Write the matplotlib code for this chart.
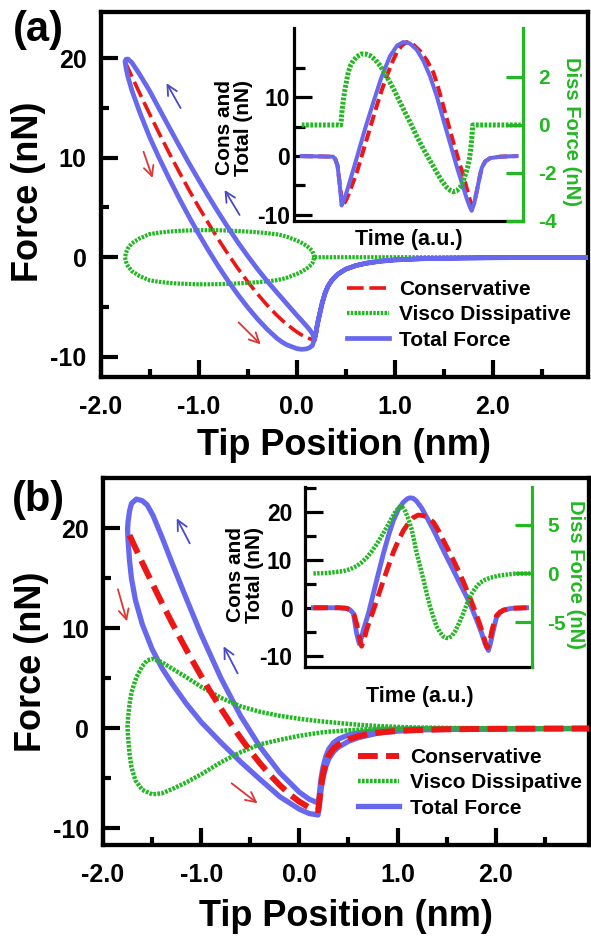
import matplotlib
matplotlib.use('Agg')
import matplotlib.pyplot as plt

plt.rcParams['font.family'] = ['Liberation Sans', 'DejaVu Sans']
plt.rcParams['font.weight'] = 'bold'
plt.rcParams['axes.unicode_minus'] = False

BLUE = '#6868ee'
RED = '#ee1515'
GREEN = '#22b822'
ARROW_BLUE = '#4848c8'
ARROW_RED = '#e03535'

# ---------------- panel (a) main: force vs tip position ----------------
a_contact_x = [-1.75, -1.74, -1.72, -1.68, -1.6, -1.5, -1.4, -1.3, -1.2, -1.1, -1.0, -0.9, -0.8,
               -0.7, -0.6, -0.5, -0.4, -0.3, -0.2, -0.15, -0.1, 0.0, 0.05, 0.1, 0.13, 0.16, 0.18]
a_cons_contact = [19.67, 19.45, 19.02, 18.16, 16.47, 14.41, 12.41, 10.48, 8.61, 6.80, 5.07, 3.41, 1.82,
                  0.31, -1.12, -2.45, -3.69, -4.83, -5.86, -6.32, -6.75, -7.50, -7.81, -8.06, -8.18, -8.27, -8.30]
a_diss_approach = [0.0, 0.45, 0.9, 1.4, 1.9, 2.32, 2.48, 2.58, 2.65, 2.69, 2.72, 2.72, 2.71,
                   2.68, 2.63, 2.58, 2.51, 2.42, 2.3, 2.2, 2.06, 1.68, 1.45, 1.15, 0.92, 0.6, 0.0]
a_diss_retract = [0.0, -0.45, -0.9, -1.4, -1.9, -2.32, -2.48, -2.58, -2.65, -2.69, -2.72, -2.72, -2.71,
                  -2.68, -2.63, -2.58, -2.51, -2.42, -2.3, -2.2, -2.06, -1.68, -1.45, -1.15, -0.92, -0.6, 0.0]
a_tot_approach = [19.67, 19.9, 19.92, 19.56, 18.37, 16.73, 14.89, 13.06, 11.26, 9.49, 7.79, 6.13, 4.53,
                  2.99, 1.51, 0.13, -1.18, -2.41, -3.56, -4.12, -4.69, -5.82, -6.36, -6.91, -7.26, -7.67, -8.30]
a_tot_retract = [19.67, 19.0, 18.12, 16.76, 14.57, 12.09, 9.93, 7.90, 5.96, 4.11, 2.35, 0.69, -0.89,
                 -2.37, -3.75, -5.03, -6.20, -7.25, -8.16, -8.52, -8.81, -9.18, -9.26, -9.21, -9.10, -8.87, -8.30]
a_free_x = [0.18, 0.19, 0.2, 0.21, 0.23, 0.26, 0.29, 0.32, 0.36, 0.42, 0.5, 0.6, 0.7, 0.85,
            1.0, 1.25, 1.5, 2.0, 2.5, 3.0]
a_free_f = [-8.3, -7.9, -7.4, -6.8, -5.9, -4.6, -3.6, -2.9, -2.3, -1.7, -1.2, -0.85, -0.62, -0.4,
            -0.27, -0.16, -0.1, -0.05, -0.03, -0.02]
a_free_diss = [0.0] * len(a_free_x)

# arrows (tail -> head) in data units
a_arrows_blue = [((-1.184, 15.0), (-1.327, 17.5)), ((-0.582, 4.25), (-0.735, 6.76))]
a_arrows_red = [((-1.561, 10.6), (-1.469, 7.97)), ((-0.592, -6.55), (-0.367, -8.76))]

# ---------------- panel (a) inset: force vs time ----------------
ta_tot_t = [0.034, 0.17, 0.18, 0.19, 0.198, 0.208, 0.22, 0.23, 0.25, 0.274, 0.31, 0.346, 0.38, 0.419,
            0.45, 0.477, 0.505, 0.536, 0.565, 0.594, 0.625, 0.652, 0.68, 0.71, 0.735, 0.754, 0.768,
            0.776, 0.787, 0.798, 0.81, 0.82, 0.835, 0.856, 0.9, 0.972]
ta_tot_f = [0, -0.1, -0.5, -1.6, -4.2, -8.4, -7.2, -6.1, -3.5, -0.3, 4.6, 9.1, 13.2, 17.0,
            18.8, 19.4, 19.2, 18.1, 16.2, 13.6, 10.0, 6.2, 2.4, -1.7, -4.8, -7.2, -8.7,
            -9.3, -8.0, -6.0, -3.7, -2.0, -0.9, -0.35, -0.1, 0]
ta_cons_t = [0.034, 0.17, 0.18, 0.19, 0.198, 0.208, 0.216, 0.23, 0.25, 0.274, 0.3, 0.317, 0.34, 0.361,
             0.383, 0.405, 0.427, 0.448, 0.47, 0.492, 0.515, 0.55, 0.58, 0.609, 0.63, 0.652, 0.674,
             0.696, 0.718, 0.74, 0.755, 0.769, 0.776, 0.787, 0.798, 0.81, 0.82, 0.835, 0.856, 0.9, 0.972]
ta_cons_f = [0, -0.1, -0.5, -1.6, -4.2, -7.4, -8.3, -7.3, -5.3, -2.8, 0.6, 2.8, 5.8, 8.5,
             11.2, 13.6, 15.8, 17.6, 18.8, 19.4, 19.2, 17.9, 16.3, 14.2, 11.6, 8.5, 5.4,
             2.3, -0.6, -3.4, -5.6, -7.6, -8.3, -8.0, -6.0, -3.7, -2.0, -0.9, -0.35, -0.1, 0]
ta_diss_t = [0.034, 0.204, 0.206, 0.208, 0.212, 0.218, 0.223, 0.23, 0.237, 0.248, 0.259, 0.275, 0.295,
             0.315, 0.332, 0.355, 0.376, 0.4, 0.419, 0.44, 0.463, 0.485, 0.507, 0.535, 0.565, 0.595,
             0.623, 0.645, 0.667, 0.685, 0.696, 0.71, 0.725, 0.737, 0.747, 0.757, 0.766, 0.772, 0.776,
             0.779, 0.781, 0.99]
ta_diss_f = [0, 0, 0.15, 0.4, 0.8, 1.2, 1.5, 1.85, 2.2, 2.5, 2.68, 2.85, 2.96,
             2.95, 2.89, 2.72, 2.47, 2.1, 1.78, 1.4, 0.95, 0.52, 0.11, -0.45, -1.0, -1.5,
             -1.97, -2.32, -2.6, -2.74, -2.78, -2.74, -2.6, -2.38, -2.1, -1.8, -1.42, -1.0, -0.6,
             -0.2, 0, 0]

# ---------------- panel (b) main ----------------
b_cons_x = [-1.73, -1.6, -1.5, -1.4, -1.3, -1.2, -1.1, -1.0, -0.9, -0.8, -0.7, -0.6, -0.5, -0.4,
            -0.3, -0.2, -0.1, 0.0, 0.1, 0.19, 0.2, 0.21, 0.22, 0.24, 0.27, 0.3, 0.35, 0.42, 0.5,
            0.6, 0.7, 0.85, 1.0, 1.25, 1.5, 2.0, 2.5, 3.0]
b_cons_f = [19.31, 16.56, 14.52, 12.53, 10.61, 8.75, 6.95, 5.22, 3.57, 1.99, 0.48, -0.94, -2.27, -3.51,
            -4.65, -5.68, -6.59, -7.34, -7.92, -8.2, -7.6, -6.7, -5.8, -4.6, -3.45, -2.7, -2.0, -1.5, -1.1,
            -0.8, -0.58, -0.38, -0.26, -0.16, -0.1, -0.05, -0.03, -0.02]
b_app_x = [3.0, 2.5, 2.0, 1.6, 1.2, 1.0, 0.8, 0.6, 0.5, 0.4, 0.35, 0.3, 0.27, 0.24, 0.22, 0.2, 0.19,
           0.1, 0.0, -0.2, -0.4, -0.6, -0.8, -1.0, -1.15, -1.3, -1.4, -1.49, -1.55, -1.6, -1.66,
           -1.71, -1.73, -1.745, -1.75]
b_app_diss = [0.0, 0.0, 0.01, 0.03, 0.08, 0.14, 0.23, 0.36, 0.44, 0.53, 0.58, 0.62, 0.65, 0.68, 0.7,
              0.72, 0.73, 0.83, 0.95, 1.25, 1.65, 2.2, 3.05, 4.15, 5.1, 6.0, 6.6, 6.95, 6.8, 6.2, 5.1,
              3.6, 2.4, 1.0, 0.2]
b_app_tot = [-0.02, -0.03, -0.04, -0.06, -0.07, -0.11, -0.19, -0.44, -0.66, -1.07, -1.42, -2.08, -2.8,
             -3.92, -5.1, -6.88, -7.47, -7.09, -6.39, -4.43, -1.86, 1.26, 5.04, 9.37, 12.94, 16.61,
             19.13, 21.27, 22.33, 22.76, 22.92, 22.48, 21.71, 20.63, 19.94]
b_ret_x = [-1.75, -1.745, -1.73, -1.71, -1.67, -1.6, -1.5, -1.4, -1.3, -1.15, -1.0, -0.8, -0.6, -0.4,
           -0.2, 0.0, 0.1, 0.19, 0.2, 0.22, 0.24, 0.27, 0.3, 0.35, 0.4, 0.5, 0.6, 0.8, 1.0, 1.2, 1.6,
           2.0, 2.5, 3.0]
b_ret_diss = [0.2, -0.8, -2.5, -3.9, -5.2, -6.15, -6.6, -6.5, -6.1, -5.4, -4.6, -3.4, -2.4, -1.6,
              -1.15, -0.75, -0.6, -0.47, -0.45, -0.42, -0.4, -0.37, -0.34, -0.31, -0.27, -0.2, -0.14,
              -0.06, -0.03, -0.01, 0.0, 0.0, 0.0, 0.0]
b_ret_tot = [19.94, 18.83, 16.81, 14.98, 12.83, 10.41, 7.92, 6.03, 4.51, 2.44, 0.62, -1.41, -3.34, -5.11,
             -6.83, -8.09, -8.52, -8.67, -8.05, -6.22, -5.0, -3.82, -3.04, -2.31, -1.87, -1.3, -0.94,
             -0.48, -0.28, -0.16, -0.09, -0.05, -0.03, -0.02]

b_arrows_blue = [((-1.117, 18.5), (-1.249, 21.0)), ((-0.629, 5.5), (-0.772, 8.2))]
b_arrows_red = [((-1.848, 13.9), (-1.756, 10.7)), ((-0.69, -5.5), (-0.426, -7.5))]

# ---------------- panel (b) inset ----------------
tb_tot_t = [0.037, 0.15, 0.18, 0.198, 0.213, 0.227, 0.239, 0.248, 0.257, 0.268, 0.279, 0.301, 0.323,
            0.345, 0.367, 0.389, 0.411, 0.433, 0.45, 0.462, 0.476, 0.491, 0.513, 0.535, 0.565, 0.594,
            0.623, 0.653, 0.682, 0.711, 0.733, 0.755, 0.775, 0.792, 0.8, 0.807, 0.816, 0.826, 0.835,
            0.843, 0.858, 0.873, 0.9, 0.917, 0.975]
tb_tot_f = [0, 0, -0.1, -0.4, -1.2, -5.3, -7.5, -6.3, -4.6, -2.9, -1.2, 3.0, 7.2,
            11.3, 15.0, 18.2, 20.5, 22.0, 22.7, 22.9, 22.8, 22.2, 20.8, 18.9, 16.2, 13.4,
            10.6, 7.8, 5.0, 2.3, 0.0, -2.55, -5.0, -7.4, -8.3, -8.9, -7.4, -5.2, -3.4,
            -1.9, -1.0, -0.5, -0.2, -0.1, 0]
tb_cons_t = [0.037, 0.15, 0.18, 0.2, 0.215, 0.228, 0.24, 0.249, 0.26, 0.271, 0.285, 0.301, 0.323, 0.345,
             0.367, 0.389, 0.411, 0.433, 0.455, 0.477, 0.498, 0.52, 0.543, 0.565, 0.587, 0.609, 0.631,
             0.653, 0.675, 0.697, 0.715, 0.733, 0.752, 0.77, 0.785, 0.796, 0.803, 0.812, 0.822, 0.832,
             0.843, 0.858, 0.873, 0.917, 0.975]
tb_cons_f = [0, 0, -0.1, -0.4, -1.3, -3.5, -6.3, -8.0, -6.6, -4.6, -2.6, -0.5, 2.6, 5.7,
             8.7, 11.6, 14.0, 16.1, 17.6, 18.8, 19.3, 19.2, 18.7, 17.8, 16.1, 14.0, 12.0,
             9.9, 7.7, 5.4, 3.3, 1.2, -1.2, -3.6, -5.8, -7.7, -8.3, -7.2, -4.8, -3.0,
             -1.6, -0.9, -0.5, -0.1, 0]
tb_diss_t = [0.037, 0.1, 0.169, 0.2, 0.227, 0.25, 0.271, 0.293, 0.315, 0.337, 0.359, 0.378, 0.396,
             0.408, 0.418, 0.428, 0.44, 0.455, 0.469, 0.48, 0.491, 0.506, 0.521, 0.535, 0.55, 0.565,
             0.579, 0.594, 0.609, 0.62, 0.631, 0.645, 0.66, 0.678, 0.697, 0.712, 0.726, 0.748, 0.77,
             0.792, 0.814, 0.858, 0.917, 0.99]
tb_diss_f = [0, 0.05, 0.24, 0.45, 0.76, 1.15, 1.62, 2.25, 3.0, 3.85, 4.73, 5.55, 6.28,
             6.65, 6.9, 6.85, 6.45, 5.6, 4.55, 3.4, 2.14, 0.75, -0.62, -2.0, -3.38, -4.5,
             -5.45, -6.05, -6.5, -6.62, -6.66, -6.45, -5.97, -5.1, -4.07, -3.15, -2.35, -1.55, -0.96,
             -0.65, -0.45, -0.2, -0.03, 0]

# ticks and labels
main_xticks = [-2, -1, 0, 1, 2]
main_xlabels = ['-2.0', '-1.0', '0.0', '1.0', '2.0']
main_xminor = [-1.5, -0.5, 0.5, 1.5, 2.5]
main_yticks = [-10, 0, 10, 20]
main_yminor = [-5, 5, 15]
ia_left_major = [-10, 0, 10]
ia_left_minor = [-5, 5, 15]
ia_right_major = [-4, -2, 0, 2]
ib_left_major = [-10, 0, 10, 20]
ib_left_minor = [-5, 5, 15, 25]
ib_right_major = [-5, 0, 5]
legend_labels = ['Conservative', 'Visco Dissipative', 'Total Force']

W, H = 591, 940
fig = plt.figure(figsize=(W / 100, H / 100), dpi=100)


def box(left, right, top, bottom):
    return [left / W, (H - bottom) / H, (right - left) / W, (bottom - top) / H]


def style_main(ax, xlim, ylim):
    ax.set_xlim(*xlim)
    ax.set_ylim(*ylim)
    for s in ax.spines.values():
        s.set_linewidth(3.1)
    ax.set_xticks(main_xticks)
    ax.set_xticklabels(main_xlabels)
    ax.set_xticks(main_xminor, minor=True)
    ax.set_yticks(main_yticks)
    ax.set_yticks(main_yminor, minor=True)
    ax.tick_params(which='both', direction='in', width=3, top=False, right=False)
    ax.tick_params(which='major', length=12)
    ax.tick_params(which='minor', length=6)
    ax.tick_params(axis='x', which='major', pad=13, labelsize=18)
    ax.tick_params(axis='y', which='major', pad=10, labelsize=18)


def style_inset(ax, ax2, ylim_l, ylim_r, lmaj, lmin, rmaj, lpad):
    ax.set_xlim(0, 1)
    ax.set_ylim(*ylim_l)
    ax2.set_ylim(*ylim_r)
    ax.set_xticks([])
    ax.patch.set_alpha(0)
    ax.spines['top'].set_visible(False)
    ax.spines['right'].set_visible(False)
    ax.spines['left'].set_linewidth(2.3)
    ax.spines['bottom'].set_linewidth(2.3)
    for k in ['top', 'left', 'bottom']:
        ax2.spines[k].set_visible(False)
    ax2.spines['right'].set_color(GREEN)
    ax2.spines['right'].set_linewidth(2.3)
    ax.set_yticks(lmaj)
    ax.set_yticks(lmin, minor=True)
    ax.tick_params(axis='y', which='both', direction='in', width=2.3, pad=lpad, labelsize=16.5)
    ax.tick_params(axis='y', which='major', length=13)
    ax.tick_params(axis='y', which='minor', length=8)
    ax2.set_yticks(rmaj)
    ax2.tick_params(axis='y', direction='in', length=12.5, width=2.3, pad=11, labelsize=15,
                    color=GREEN, labelcolor=GREEN)


def add_legend(ax, handles, anchor):
    ax.legend(handles, legend_labels, loc='center left', bbox_to_anchor=anchor, frameon=False,
              fontsize=15, handlelength=2.0, handletextpad=0.5, labelspacing=0.3,
              borderpad=0, borderaxespad=0)


def add_arrows(ax, arrows, color):
    for tail, head in arrows:
        ax.annotate('', xy=head, xytext=tail,
                    arrowprops=dict(arrowstyle='->', color=color, lw=1.3, mutation_scale=18,
                                    shrinkA=0, shrinkB=0))


# ================= panel (a) =================
ax_a = fig.add_axes(box(100.5, 588, 12, 377))
l_cons, = ax_a.plot(a_contact_x + a_free_x, a_cons_contact + a_free_f, color=RED, lw=2.6,
                    linestyle=(0, (4.6, 1.6)), zorder=2)
l_diss, = ax_a.plot(a_contact_x[::-1] + a_contact_x + a_free_x,
                    a_diss_approach[::-1] + a_diss_retract + a_free_diss,
                    color=GREEN, lw=3.0, linestyle=(0, (0.6, 0.3)), zorder=3)
l_tot, = ax_a.plot(a_free_x[::-1] + a_contact_x[::-1] + a_contact_x + a_free_x,
                   a_free_f[::-1] + a_tot_approach[::-1] + a_tot_retract + a_free_f,
                   color=BLUE, lw=3.4, solid_joinstyle='round', zorder=4)
style_main(ax_a, (-2.0, 2.97), (-12.04, 24.65))
add_arrows(ax_a, a_arrows_blue, ARROW_BLUE)
add_arrows(ax_a, a_arrows_red, ARROW_RED)
add_legend(ax_a, [l_cons, l_diss, l_tot], (0.506, 0.170))
ax_a.text(-0.1486, 0.508, 'Force (nN)', transform=ax_a.transAxes, rotation=90,
          ha='center', va='center', fontsize=26)
ax_a.text(0.5, -0.189, 'Tip Position (nm)', transform=ax_a.transAxes,
          ha='center', va='center', fontsize=26)

ia = fig.add_axes(box(294, 523, 28, 221))
ia2 = ia.twinx()
ia.plot(ta_cons_t, ta_cons_f, color=RED, lw=2.9, linestyle=(0, (2.8, 1.3)), zorder=2)
ia.plot(ta_tot_t, ta_tot_f, color=BLUE, lw=2.9, zorder=3)
ia2.plot(ta_diss_t, ta_diss_f, color=GREEN, lw=3.6, linestyle=(0, (0.55, 0.3)), zorder=4)
style_inset(ia, ia2, (-11.05, 21.8), (-4.0, 4.04), ia_left_major, ia_left_minor, ia_right_major, 3)
ia.text(-0.262, 0.484, 'Cons and\nTotal (nN)', transform=ia.transAxes, rotation=90,
        ha='center', va='center', fontsize=15, linespacing=1.0)
ia.text(1.212, 0.464, 'Diss Force (nN)', transform=ia.transAxes, rotation=270,
        ha='center', va='center', fontsize=14.5, color=GREEN)
ia.text(0.5, -0.098, 'Time (a.u.)', transform=ia.transAxes, ha='center', va='center', fontsize=15.5)

# ================= panel (b) =================
ax_b = fig.add_axes(box(103, 589, 478, 845))
m_tot, = ax_b.plot(b_app_x + b_ret_x, b_app_tot + b_ret_tot, color=BLUE, lw=3.8,
                   solid_joinstyle='round', zorder=2)
m_diss, = ax_b.plot(b_app_x + b_ret_x, b_app_diss + b_ret_diss, color=GREEN, lw=3.2,
                    linestyle=(0, (0.6, 0.3)), zorder=3)
m_cons, = ax_b.plot(b_cons_x, b_cons_f, color=RED, lw=4.3, linestyle=(0, (3.3, 1.4)), zorder=4)
style_main(ax_b, (-2.0, 2.95), (-11.67, 25.03))
add_arrows(ax_b, b_arrows_blue, ARROW_BLUE)
add_arrows(ax_b, b_arrows_red, ARROW_RED)
add_legend(ax_b, [m_cons, m_diss, m_tot], (0.524, 0.169))
ax_b.text(-0.148, 0.50, 'Force (nN)', transform=ax_b.transAxes, rotation=90,
          ha='center', va='center', fontsize=26)
ax_b.text(0.5, -0.195, 'Tip Position (nm)', transform=ax_b.transAxes,
          ha='center', va='center', fontsize=26)

ib = fig.add_axes(box(305, 532.3, 487, 667.3))
ib2 = ib.twinx()
ib.plot(tb_tot_t, tb_tot_f, color=BLUE, lw=3.5, zorder=2)
ib.plot(tb_cons_t, tb_cons_f, color=RED, lw=3.5, linestyle=(0, (3.0, 1.4)), zorder=3)
ib2.plot(tb_diss_t, tb_diss_f, color=GREEN, lw=3.2, linestyle=(0, (0.55, 0.3)), zorder=4)
style_inset(ib, ib2, (-12.4, 25.15), (-9.66, 8.9), ib_left_major, ib_left_minor, ib_right_major, 9)
ib.text(-0.262, 0.512, 'Cons and\nTotal (nN)', transform=ib.transAxes, rotation=90,
        ha='center', va='center', fontsize=15, linespacing=1.0)
ib.text(1.19, 0.515, 'Diss Force (nN)', transform=ib.transAxes, rotation=270,
        ha='center', va='center', fontsize=14.5, color=GREEN)
ib.text(0.506, -0.162, 'Time (a.u.)', transform=ib.transAxes, ha='center', va='center', fontsize=15.5)

fig.text(38.5 / W, 1 - 30 / H, '(a)', ha='center', va='center', fontsize=30)
fig.text(38.5 / W, 1 - 500 / H, '(b)', ha='center', va='center', fontsize=30)

fig.savefig('out.png', dpi=100)
